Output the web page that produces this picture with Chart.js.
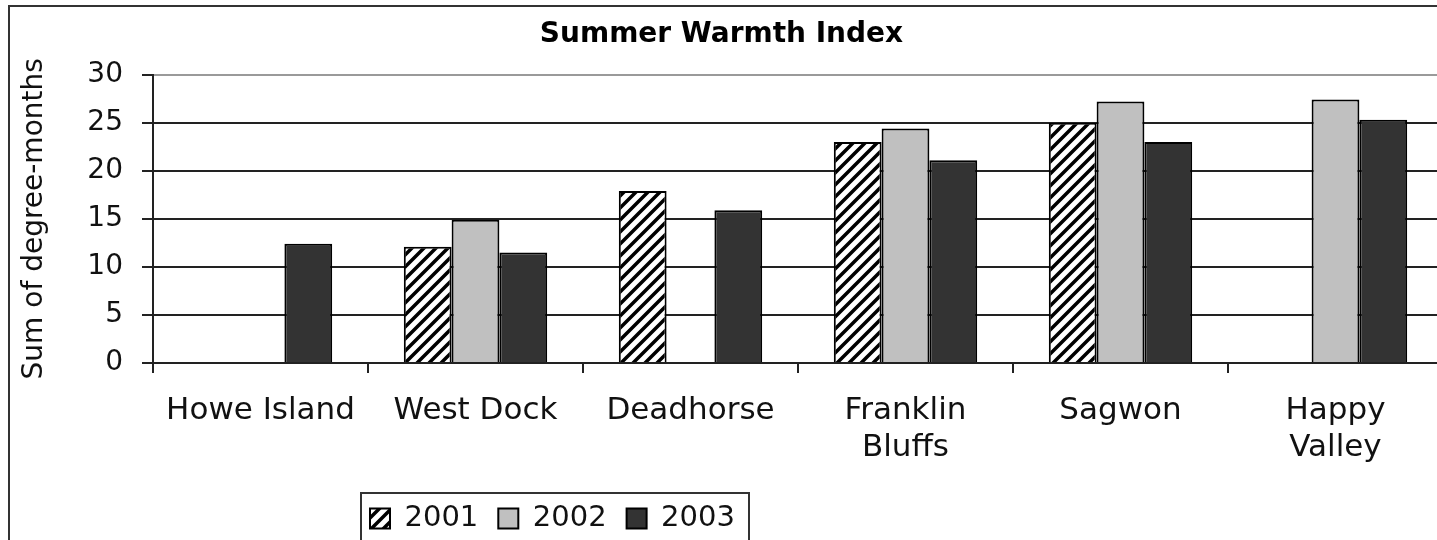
<!DOCTYPE html>
<html>
<head>
<meta charset="utf-8">
<title>Summer Warmth Index</title>
<script src="https://cdn.jsdelivr.net/npm/chart.js@4.4.1/dist/chart.umd.min.js"></script>
<style>
    html, body { margin: 0; padding: 0; background: #fff; overflow: hidden; }
    #wrap { position: absolute; left: 0; top: 0; width: 1460px; height: 540px; }
</style>
</head>
<body>
<div id="wrap"><canvas id="chart"></canvas></div>
<script>
const stations = [['Howe Island'], ['West Dock'], ['Deadhorse'], ['Franklin', 'Bluffs'], ['Sagwon'], ['Happy', 'Valley']];
const years = ['2001', '2002', '2003'];
const warmth2001 = [null, 12.1, 17.9, 23.0, 25.0, null];
const warmth2002 = [null, 14.9, null, 24.4, 27.2, 27.4];
const warmth2003 = [12.4, 11.5, 15.9, 21.1, 23.0, 25.3];
const yTicks = [0, 5, 10, 15, 20, 25, 30];

const FONT = "'DejaVu Sans', sans-serif";
const INK = '#222';

// diagonal hatch used for 2001
function hatchPattern() {
    const c = document.createElement('canvas');
    c.width = c.height = 12;
    const g = c.getContext('2d');
    g.fillStyle = '#fff';
    g.fillRect(0, 0, 12, 12);
    g.strokeStyle = '#000';
    g.lineWidth = 3.5;
    g.beginPath();
    g.moveTo(-2, 14); g.lineTo(14, -2);
    g.moveTo(-4, 4); g.lineTo(4, -4);
    g.moveTo(8, 16); g.lineTo(16, 8);
    g.stroke();
    return g.createPattern(c, 'repeat');
}

// outer frame, legend placement and legend border
const framePlugin = {
    id: 'frame',
    afterLayout(chart) {
        const lg = chart.legend;
        const pad = lg.options.labels.padding;
        const w = lg.right - lg.left;
        lg.left = 370 - pad;
        lg.right = lg.left + w;
        const h = lg.bottom - lg.top;
        lg.top = 484 - pad + 20;
        lg.bottom = lg.top + h;
    },
    beforeDraw(chart) {
        const ctx = chart.ctx;
        ctx.save();
        ctx.fillStyle = '#fff';
        ctx.fillRect(0, 0, chart.width, chart.height);
        ctx.strokeStyle = '#333';
        ctx.lineWidth = 2;
        ctx.strokeRect(9, 6, 2000, 1000);
        ctx.restore();
    },
    afterDraw(chart) {
        const ctx = chart.ctx;
        ctx.save();
        ctx.strokeStyle = '#333';
        ctx.lineWidth = 2;
        ctx.strokeRect(361, 493, 388, 100);
        ctx.restore();
    }
};

const hatch = hatchPattern();

new Chart(document.getElementById('chart'), {
    type: 'bar',
    data: {
        labels: stations,
        datasets: [
            { label: years[0], data: warmth2001, backgroundColor: hatch, borderColor: '#000', borderWidth: 2 },
            { label: years[1], data: warmth2002, backgroundColor: '#c0c0c0', borderColor: '#000', borderWidth: 2 },
            { label: years[2], data: warmth2003, backgroundColor: '#333333', borderColor: '#000', borderWidth: 2 },
        ],
    },
    options: {
        responsive: true,
        maintainAspectRatio: false,
        animation: false,
        layout: { padding: { left: 0, right: 17, top: 0, bottom: 0 } },
        datasets: { bar: { categoryPercentage: 0.667, barPercentage: 1.0 } },
        plugins: {
            title: {
                display: true,
                text: 'Summer Warmth Index',
                color: '#000',
                font: { family: FONT, size: 28, weight: 'bold' },
                padding: { top: 18, bottom: 23 },
            },
            legend: {
                position: 'bottom',
                align: 'start',
                labels: {
                    color: '#111',
                    font: { family: FONT, size: 29 },
                    boxWidth: 20,
                    boxHeight: 20,
                    padding: 20,
                },
            },
            tooltip: { enabled: false },
        },
        scales: {
            x: {
                offset: true,
                grid: {
                    offset: true,
                    drawOnChartArea: false,
                    drawTicks: true,
                    tickLength: 10,
                    color: INK,
                    lineWidth: 2,
                },
                border: { display: true, color: INK, width: 2 },
                ticks: {
                    color: '#111',
                    font: { family: FONT, size: 31, lineHeight: 1.2 },
                    padding: 19,
                    maxRotation: 0,
                    autoSkip: false,
                },
                afterFit(scale) { scale.height = 118; },
            },
            y: {
                min: 0,
                max: 30,
                afterBuildTicks(scale) { scale.ticks = yTicks.map((v) => ({ value: v })); },
                grid: {
                    color: (ctx) => (ctx.tick && ctx.tick.value === 30 ? '#9a9a9a' : INK),
                    tickColor: INK,
                    lineWidth: 2,
                    tickLength: 11,
                },
                border: { display: true, color: INK, width: 2 },
                ticks: {
                    color: '#111',
                    font: { family: FONT, size: 28 },
                    padding: 19,
                },
                title: {
                    display: true,
                    text: 'Sum of degree-months',
                    color: '#111',
                    font: { family: FONT, size: 28 },
                    padding: { top: 18, bottom: 0 },
                },
                afterFit(scale) { scale.width = 153; },
            },
        },
    },
    plugins: [framePlugin],
});
</script>
</body>
</html>
